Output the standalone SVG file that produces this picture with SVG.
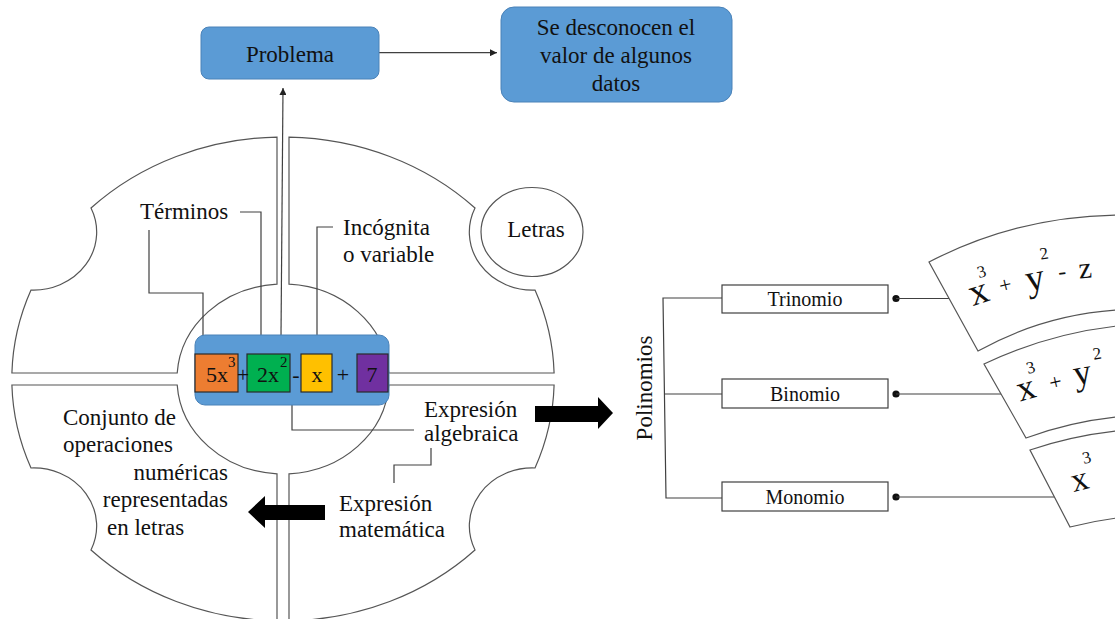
<svg xmlns="http://www.w3.org/2000/svg" width="1115" height="619" viewBox="0 0 1115 619">
  <style>
    .t { font-family: "Liberation Serif", "Tinos", "DejaVu Serif", serif; fill: #111; }
    .piece { fill: #fff; stroke: #555; stroke-width: 1.2; }
    .blue { fill: #5B9BD5; stroke: #4A82B8; stroke-width: 1; }
    .box { fill: #fff; stroke: #404040; stroke-width: 1.2; }
    .term { stroke: #2a2a2a; stroke-width: 1.2; }
    .ln { fill: none; stroke: #404040; stroke-width: 1.2; }
    .big { fill: #000; }
  </style>
  <defs>
    <marker id="tri" viewBox="0 0 10 10" refX="10" refY="5" markerWidth="7" markerHeight="7" markerUnits="userSpaceOnUse" orient="auto">
      <path d="M0 0 L10 5 L0 10 Z" fill="#222"/>
    </marker>
  </defs>

  <!-- ring of four pieces around the expression -->
  <g id="piece-top-left">
    <path class="piece" d="M277 137.1 A271 242 0 0 0 91 208 A63 58 0 0 1 31 290 A271 242 0 0 0 11.9 373 L177.2 373 A106 95 0 0 1 277 284.2 Z"/>
  </g>
  <g id="piece-top-right">
    <path class="piece" d="M289 137.1 A271 242 0 0 1 475 208 A63 58 0 0 0 535 290 A271 242 0 0 1 554.1 373 L388.8 373 A106 95 0 0 0 289 284.2 Z"/>
  </g>
  <g id="piece-bottom-left">
    <path class="piece" d="M277 620.9 A271 242 0 0 1 91 550 A63 58 0 0 0 31 468 A271 242 0 0 1 11.9 385 L177.2 385 A106 95 0 0 0 277 473.8 Z"/>
  </g>
  <g id="piece-bottom-right">
    <path class="piece" d="M289 620.9 A271 242 0 0 0 475 550 A63 58 0 0 1 535 468 A271 242 0 0 0 554.1 385 L388.8 385 A106 95 0 0 1 289 473.8 Z"/>
  </g>

  <g id="letras" font-family="Liberation Serif, serif">
    <ellipse class="piece" cx="532" cy="232" rx="51" ry="44.5"/>
    <text class="t" x="536" y="237" font-size="23" text-anchor="middle">Letras</text>
  </g>

  <!-- connectors -->
  <g id="connectors">
    <line class="ln" x1="281" y1="335" x2="283" y2="88" marker-end="url(#tri)"/>
    <line class="ln" x1="379" y1="52.7" x2="497" y2="52.7" marker-end="url(#tri)"/>
    <path class="ln" d="M149 230 L149 293 L203 293 L203 354"/>
    <path class="ln" d="M240 212 L261 212 L261 354"/>
    <path class="ln" d="M333 227 L317 227 L317 354"/>
    <path class="ln" d="M292 405 L292 430 L414 430"/>
    <path class="ln" d="M431 448 L431 465 L394 465 L394 483"/>
    <path class="ln" d="M722 298 L663 298 L666 498 L722 498"/>
    <path class="ln" d="M665 394 L722 394"/>
    <circle cx="896" cy="298.5" r="3.6" fill="#111"/>
    <circle cx="896" cy="394" r="3.6" fill="#111"/>
    <circle cx="896" cy="497" r="3.6" fill="#111"/>
    <line class="ln" x1="896" y1="298.5" x2="949" y2="298.5"/>
    <line class="ln" x1="896" y1="394" x2="1001" y2="394"/>
    <line class="ln" x1="896" y1="497" x2="1054" y2="497"/>
    <polygon class="big" points="535,406 598,406 598,397 613,413 598,429 598,422 535,422"/>
    <polygon class="big" points="325,505 265,505 265,496 248,512 265,528 265,520 325,520"/>
  </g>

  <g id="problema">
    <rect class="blue" x="201" y="27" width="178" height="52" rx="8"/>
    <text class="t" x="290" y="62" font-size="23" text-anchor="middle">Problema</text>
  </g>

  <g id="desconocen">
    <rect class="blue" x="501" y="7" width="231" height="95" rx="13"/>
    <text class="t" x="616" y="35" font-size="23" text-anchor="middle">Se desconocen el</text>
    <text class="t" x="616" y="63" font-size="23" text-anchor="middle">valor de algunos</text>
    <text class="t" x="616" y="91" font-size="23" text-anchor="middle">datos</text>
  </g>

  <g id="expresion">
    <rect class="blue" x="195" y="335" width="194" height="70" rx="10"/>
    <rect class="term" x="195" y="354" width="43" height="38" fill="#ED7D31"/>
    <rect class="term" x="247" y="354" width="43" height="38" fill="#00B050"/>
    <rect class="term" x="301" y="354" width="31" height="38" fill="#FFC000"/>
    <rect class="term" x="357" y="354" width="31" height="38" fill="#7030A0"/>
    <text class="t" x="206" y="382" font-size="22">5x</text>
    <text class="t" x="228" y="367" font-size="15">3</text>
    <text class="t" x="243" y="382" font-size="22" text-anchor="middle">+</text>
    <text class="t" x="257" y="382" font-size="22">2x</text>
    <text class="t" x="280" y="367" font-size="15">2</text>
    <text class="t" x="296" y="382" font-size="22" text-anchor="middle">-</text>
    <text class="t" x="317" y="382" font-size="22" text-anchor="middle">x</text>
    <text class="t" x="343" y="382" font-size="22" text-anchor="middle">+</text>
    <text class="t" x="372" y="382" font-size="22" text-anchor="middle">7</text>
  </g>

  <g id="terminos">
    <text class="t" x="140" y="219" font-size="23">Términos</text>
  </g>
  <g id="incognita">
    <text class="t" x="343" y="235" font-size="23">Incógnita</text>
    <text class="t" x="343" y="262" font-size="23">o variable</text>
  </g>
  <g id="conjunto">
    <text class="t" x="63" y="425" font-size="23">Conjunto de</text>
    <text class="t" x="63" y="452" font-size="23">operaciones</text>
    <text class="t" x="228" y="480" font-size="23" text-anchor="end">numéricas</text>
    <text class="t" x="228" y="507" font-size="23" text-anchor="end">representadas</text>
    <text class="t" x="107" y="535" font-size="23">en letras</text>
  </g>
  <g id="algebraica">
    <text class="t" x="424" y="417" font-size="23">Expresión</text>
    <text class="t" x="424" y="441" font-size="23">algebraica</text>
  </g>
  <g id="matematica">
    <text class="t" x="339" y="511" font-size="23">Expresión</text>
    <text class="t" x="339" y="537" font-size="23">matemática</text>
  </g>

  <g id="polinomios">
    <text class="t" transform="translate(652,388) rotate(-90)" font-size="23" text-anchor="middle">Polinomios</text>
  </g>

  <g id="trinomio">
    <rect class="box" x="722" y="285" width="166" height="28"/>
    <text class="t" x="805" y="306" font-size="20" text-anchor="middle">Trinomio</text>
  </g>
  <g id="binomio">
    <rect class="box" x="722" y="379" width="166" height="29"/>
    <text class="t" x="805" y="401" font-size="20" text-anchor="middle">Binomio</text>
  </g>
  <g id="monomio">
    <rect class="box" x="722" y="482" width="166" height="29"/>
    <text class="t" x="805" y="504" font-size="20" text-anchor="middle">Monomio</text>
  </g>

  <g id="arc-trinomio">
    <path class="piece" d="M929 262 A420 420 0 0 1 1117 215 L1117 310 A330 330 0 0 0 978 351 Z"/>
    <text class="t" font-size="38" transform="translate(982,303) rotate(-18)" text-anchor="middle">x</text>
    <text class="t" font-size="17" transform="translate(983,277) rotate(-16)" text-anchor="middle">3</text>
    <text class="t" font-size="22" transform="translate(1007,292) rotate(-14)" text-anchor="middle">+</text>
    <text class="t" font-size="38" transform="translate(1037,290) rotate(-11)" text-anchor="middle">y</text>
    <text class="t" font-size="17" transform="translate(1045,259) rotate(-10)" text-anchor="middle">2</text>
    <text class="t" font-size="24" transform="translate(1063,279) rotate(-7)" text-anchor="middle">-</text>
    <text class="t" font-size="30" transform="translate(1086,278) rotate(-5)" text-anchor="middle">z</text>
  </g>
  <g id="arc-binomio">
    <path class="piece" d="M984 364 A420 420 0 0 1 1117 326 L1117 417 A380 380 0 0 0 1026 438 Z"/>
    <text class="t" font-size="36" transform="translate(1029,399) rotate(-16)" text-anchor="middle">x</text>
    <text class="t" font-size="17" transform="translate(1032,373) rotate(-15)" text-anchor="middle">3</text>
    <text class="t" font-size="22" transform="translate(1057,389) rotate(-13)" text-anchor="middle">+</text>
    <text class="t" font-size="36" transform="translate(1084,384) rotate(-10)" text-anchor="middle">y</text>
    <text class="t" font-size="17" transform="translate(1098,359) rotate(-9)" text-anchor="middle">2</text>
  </g>
  <g id="arc-monomio">
    <path class="piece" d="M1030 450 A420 420 0 0 1 1117 431 L1117 518 A380 380 0 0 0 1070 527 Z"/>
    <text class="t" font-size="34" transform="translate(1082,490) rotate(-14)" text-anchor="middle">x</text>
    <text class="t" font-size="17" transform="translate(1088,463) rotate(-13)" text-anchor="middle">3</text>
  </g>
</svg>
